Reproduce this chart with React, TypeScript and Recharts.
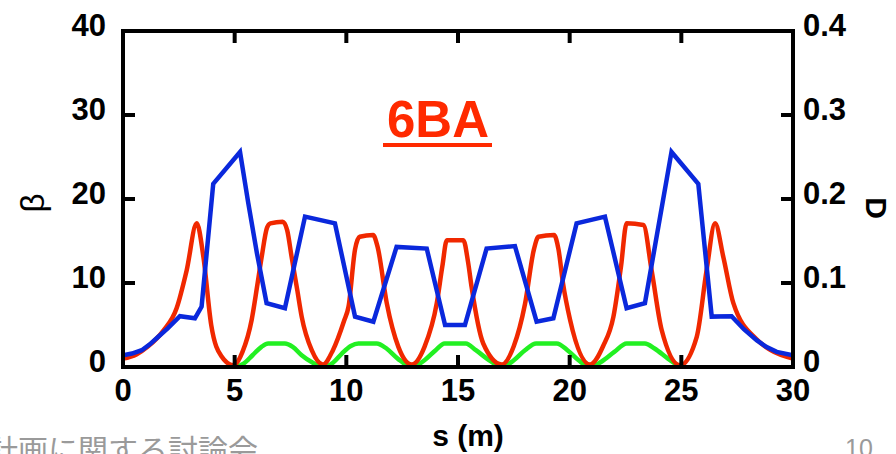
import React from "react";
import { LineChart, Line, XAxis, YAxis } from "recharts";

// s positions (m) and beta / dispersion values
const redS = [0, 0.6, 1.1, 1.8, 2.4, 2.85, 3.3, 3.6, 3.95, 4.4, 4.95, 5.35, 5.76, 6.0, 6.21, 6.45, 6.6, 7.15, 7.35, 7.55, 7.8, 8.0, 8.45, 8.95, 9.4, 9.9, 10.1, 10.39, 10.6, 11.2, 11.4, 11.81, 12.33, 12.93, 13.5, 14.05, 14.3, 14.5, 15.24, 15.45, 15.61, 16.13, 16.96, 17.5, 18.0, 18.4, 18.6, 19.3, 19.5, 19.7, 20.02, 20.91, 21.5, 21.96, 22.3, 22.55, 23.3, 23.67, 24.12, 24.94, 25.69, 26.13, 26.51, 26.88, 27.33, 28.37, 29.0, 30];
const redBeta = [1.0, 1.5, 2.4, 4.3, 7.0, 11.5, 17.1, 13.1, 5.0, 1.3, 0.2, 1.8, 5.6, 9.5, 13.1, 16.6, 17.1, 17.3, 16.3, 13.1, 9.2, 6.0, 2.0, 0.3, 2.0, 5.5, 7.2, 14.0, 15.5, 15.7, 14.3, 7.6, 2.4, 0.3, 2.4, 7.6, 12.0, 15.1, 15.1, 12.5, 9.5, 2.8, 0.3, 2.5, 7.5, 14.0, 15.5, 15.7, 14.0, 10.0, 5.6, 0.3, 2.5, 6.0, 12.0, 17.1, 16.9, 11.5, 4.4, 0.2, 3.6, 11.5, 17.1, 13.1, 7.6, 3.3, 2.0, 1.0];

const blueS = [0, 0.4, 0.84, 1.2, 1.58, 2.0, 2.55, 3.22, 3.52, 4.04, 5.24, 5.61, 6.0, 6.43, 7.25, 8.15, 9.49, 10.39, 11.21, 12.25, 13.6, 14.42, 15.31, 16.28, 17.55, 18.52, 19.27, 20.31, 21.58, 22.55, 23.37, 24.56, 25.76, 26.36, 27.25, 27.8, 28.37, 28.8, 29.27, 30];
const blueBeta = [1.4, 1.6, 2.0, 2.7, 3.6, 4.6, 6.05, 5.8, 7.2, 21.8, 25.6, 19.5, 13.5, 7.6, 7.0, 17.9, 17.1, 6.0, 5.4, 14.3, 14.1, 5.0, 5.0, 14.1, 14.4, 5.4, 5.8, 17.1, 17.9, 7.0, 7.6, 25.6, 21.8, 6.0, 6.05, 4.5, 3.2, 2.4, 1.8, 1.4];

const greenS = [5.0, 5.4, 5.8, 6.2, 6.5, 7.25, 7.6, 8.0, 8.5, 8.95, 9.4, 9.8, 10.2, 10.54, 11.36, 11.8, 12.3, 12.93, 13.5, 14.0, 14.4, 15.35, 15.8, 16.4, 16.96, 17.5, 18.0, 18.5, 19.42, 19.9, 20.4, 20.91, 21.4, 22.0, 22.55, 23.37, 23.8, 24.4, 24.94];
const greenD = [0, 0.004, 0.014, 0.024, 0.028, 0.028, 0.024, 0.014, 0.005, 0, 0.005, 0.016, 0.025, 0.028, 0.028, 0.022, 0.01, 0, 0.008, 0.02, 0.028, 0.028, 0.02, 0.008, 0, 0.008, 0.02, 0.028, 0.028, 0.02, 0.008, 0, 0.006, 0.018, 0.028, 0.028, 0.022, 0.01, 0];

const sTicks = [0, 5, 10, 15, 20, 25, 30];
const betaTicks = [0, 10, 20, 30, 40];
const dTicks = [0, 0.1, 0.2, 0.3, 0.4];
const dLabels = ["0", "0.1", "0.2", "0.3", "0.4"];

const redData = redS.map((s, i) => ({ s, v: redBeta[i] }));
const blueData = blueS.map((s, i) => ({ s, v: blueBeta[i] }));
const greenData = greenS.map((s, i) => ({ s, v: greenD[i] }));

const FONT = "'Liberation Sans', Arial, Helvetica, sans-serif";
const TICK_LEN = 12;

const BottomTick = (props: any) => {
  const { x, y, payload } = props;
  const inner = payload.value > 0 && payload.value < 30;
  return (
    <g>
      {inner && <line x1={x} x2={x} y1={y} y2={y - TICK_LEN} stroke="#000" strokeWidth={4} />}
      <text x={x} y={y + 34} textAnchor="middle" fontFamily={FONT} fontWeight="bold" fontSize={31} fill="#000">
        {payload.value}
      </text>
    </g>
  );
};

const TopTick = (props: any) => {
  const { x, y, payload } = props;
  const inner = payload.value > 0 && payload.value < 30;
  return inner ? <line x1={x} x2={x} y1={y} y2={y + TICK_LEN} stroke="#000" strokeWidth={4} /> : <g />;
};

const LeftTick = (props: any) => {
  const { x, y, payload } = props;
  const inner = payload.value > 0 && payload.value < 40;
  return (
    <g>
      {inner && <line x1={x} x2={x + TICK_LEN} y1={y} y2={y} stroke="#000" strokeWidth={4} />}
      <text x={x - 17} y={y + 5} textAnchor="end" fontFamily={FONT} fontWeight="bold" fontSize={31} fill="#000">
        {payload.value}
      </text>
    </g>
  );
};

const RightTick = (props: any) => {
  const { x, y, payload, index } = props;
  const inner = payload.value > 0 && payload.value < 0.4;
  return (
    <g>
      {inner && <line x1={x} x2={x - TICK_LEN} y1={y} y2={y} stroke="#000" strokeWidth={4} />}
      <text x={x + 10} y={y + 5} textAnchor="start" fontFamily={FONT} fontWeight="bold" fontSize={31} fill="#000">
        {dLabels[index] ?? payload.value}
      </text>
    </g>
  );
};

const frame = { stroke: "#000", strokeWidth: 4, strokeLinecap: "square" as const };

export default function App() {
  return (
    <div style={{ position: "absolute", left: 0, top: 0, width: 896, height: 454, background: "#fff", overflow: "hidden" }}>
      <LineChart width={896} height={454} margin={{ top: 30, right: 102, bottom: 86, left: 122 }}>
        <XAxis xAxisId="b" type="number" dataKey="s" domain={[0, 30]} ticks={sTicks} interval={0}
          height={1} tickSize={0} tickMargin={0} tickLine={false} axisLine={frame} tick={<BottomTick />} allowDataOverflow />
        <XAxis xAxisId="t" orientation="top" type="number" dataKey="s" domain={[0, 30]} ticks={sTicks} interval={0}
          height={1} tickSize={0} tickMargin={0} tickLine={false} axisLine={frame} tick={<TopTick />} allowDataOverflow />
        <YAxis yAxisId="beta" type="number" domain={[0, 40]} ticks={betaTicks} interval={0}
          width={1} tickSize={0} tickMargin={0} tickLine={false} axisLine={frame} tick={<LeftTick />} allowDataOverflow />
        <YAxis yAxisId="D" orientation="right" type="number" domain={[0, 0.4]} ticks={dTicks} interval={0}
          width={1} tickSize={0} tickMargin={0} tickLine={false} axisLine={frame} tick={<RightTick />} allowDataOverflow />
        <Line data={greenData} xAxisId="b" yAxisId="D" dataKey="v" type="monotone" stroke="#22f022"
          strokeWidth={4.5} dot={false} isAnimationActive={false} />
        <Line data={redData} xAxisId="b" yAxisId="beta" dataKey="v" type="monotone" stroke="#f02800"
          strokeWidth={4.5} dot={false} isAnimationActive={false} />
        <Line data={blueData} xAxisId="b" yAxisId="beta" dataKey="v" type="linear" stroke="#0a28dc"
          strokeWidth={4.5} dot={false} isAnimationActive={false} />
      </LineChart>
      <svg width={896} height={454} style={{ position: "absolute", left: 0, top: 0, pointerEvents: "none" }}>
        <text x={438} y={137} textAnchor="middle" fontFamily={FONT} fontWeight="bold" fontSize={51} fill="#ff2a00">6BA</text>
        <rect x={383} y={143} width={109} height={4} fill="#ff2a00" />
        <text x={468} y={446} textAnchor="middle" fontFamily={FONT} fontWeight="bold" fontSize={30} fill="#000">s (m)</text>
        <text transform="translate(44,203) rotate(-90)" textAnchor="middle" fontFamily={FONT} fontSize={33} fill="#000">β</text>
        <text transform="translate(866,208) rotate(90)" textAnchor="middle" fontFamily={FONT} fontWeight="bold" fontSize={30} fill="#000">D</text>
        <text x={258} y={461} textAnchor="end" fontFamily="'Noto Sans CJK JP', sans-serif" fontSize={30} fill="#9a9a9a">計画に関する討論会</text>
        <text x={845} y={457} textAnchor="start" fontFamily={FONT} fontSize={25} fill="#9a9a9a">10</text>
      </svg>
    </div>
  );
}
